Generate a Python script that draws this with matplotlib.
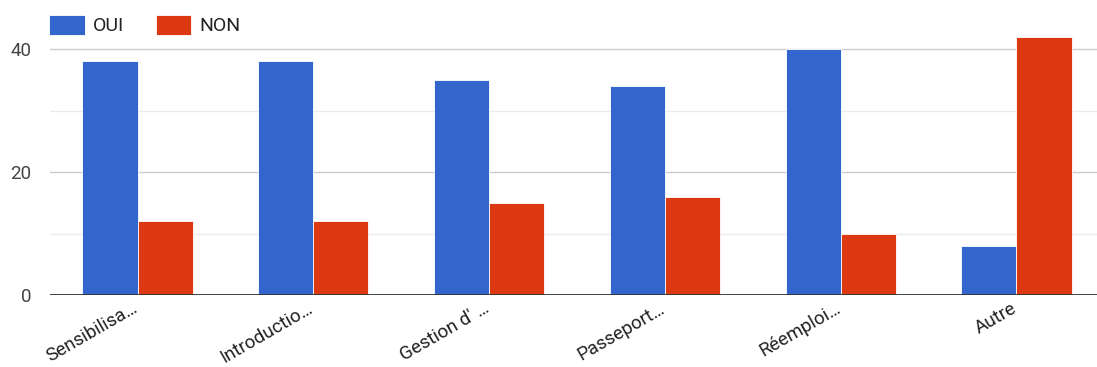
import matplotlib
matplotlib.use('Agg')
import matplotlib.pyplot as plt
import matplotlib.transforms as mtransforms
import numpy as np

# données
categories = ['Sensibilisa…', 'Introductio…', "Gestion d' …", 'Passeport…', 'Réemploi…', 'Autre']
oui = [38, 38, 35, 34, 40, 8]
non = [12, 12, 15, 16, 10, 42]

blue = '#3366cc'
red = '#dc3912'

plt.rcParams['font.family'] = ['Roboto', 'DejaVu Sans']

fig = plt.figure(figsize=(10.97, 3.67), dpi=100)
ax = fig.add_axes([49.6 / 1097, 0.196, 1054.8 / 1097, 0.7375])

x = np.arange(len(categories))
w = 0.313
ax.bar(x - w / 2, oui, w, color=blue, edgecolor='white', linewidth=0.6, label='OUI', zorder=3)
ax.bar(x + w / 2, non, w, color=red, edgecolor='white', linewidth=0.6, label='NON', zorder=3)

ax.set_xlim(-0.5, len(categories) - 0.5)
ax.set_ylim(0, 44)

# grille façon Google Sheets
for v in [10, 30]:
    ax.axhline(v, color='#ebebeb', linewidth=1, zorder=1)
for v in [20, 40]:
    ax.axhline(v, color='#cccccc', linewidth=1, zorder=1)
ax.axhline(0, color='#333333', linewidth=1.3, zorder=4)

ax.set_yticks([0, 20, 40])
ax.set_yticklabels(['0', '20', '40'], fontsize=13.5, color='#444444')
ax.tick_params(axis='y', length=0, pad=13)

ax.set_xticks(x)
ax.set_xticklabels(categories, rotation=30, ha='right', rotation_mode='anchor',
                   fontsize=13.5, color='#222222')
ax.tick_params(axis='x', length=0, pad=3)
# petit décalage vers la gauche des étiquettes
shift = mtransforms.ScaledTranslation(-6 / 100, 0, fig.dpi_scale_trans)
for lab in ax.get_xticklabels():
    lab.set_transform(lab.get_transform() + shift)

for s in ax.spines.values():
    s.set_visible(False)

fig.legend(loc='center left', bbox_to_anchor=(49 / 1097, 1 - 25 / 367), ncol=2, frameon=False,
           fontsize=14, handlelength=1.85, handleheight=1.2, handletextpad=0.42,
           columnspacing=1.6, borderaxespad=0, borderpad=0, labelcolor='#222222')

fig.savefig('out.png', dpi=100)
